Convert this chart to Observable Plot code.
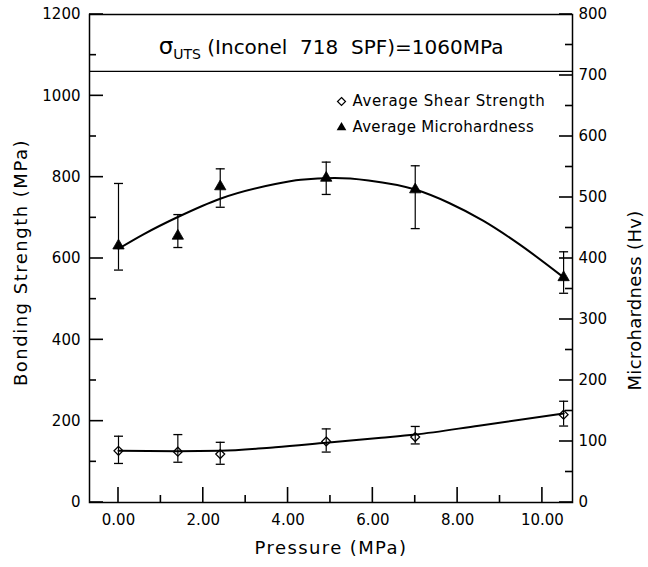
<!DOCTYPE html>
<html><head><meta charset="utf-8">
<script src="https://cdn.jsdelivr.net/npm/d3@7"></script>
<script src="https://cdn.jsdelivr.net/npm/@observablehq/plot@0.6"></script>
<style>body{margin:0;background:#fff} svg{display:block}</style>
</head><body><div id="chart"></div>
<script>
// ---- data ----
const pressure   = [0, 1.4, 2.4, 4.9, 7.0, 10.5];          // MPa
const shearMean  = [127, 125, 119, 150, 161, 216];          // MPa (left axis)
const shearLow   = [96, 99, 94, 124, 144, 188];
const shearHigh  = [163, 167, 148, 181, 187, 249];
const hardMean   = [421, 437, 518, 532, 513, 369];          // Hv (right axis)
const hardLow    = [381, 418, 484, 505, 449, 343];
const hardHigh   = [523, 472, 547, 558, 552, 411];

// fitted curves as drawn in the reference
const shearFitX  = [0, 1.4, 2.4, 3.7, 4.9, 6.2, 7.0, 8.5, 10.5];
const shearFitY  = [127, 126, 127, 136, 147, 159, 167, 189, 219];
const hardFitX   = [0, 0.6, 1.4, 2.4, 3.7, 4.3, 5.1, 5.9, 7.0, 7.8, 8.6, 9.4, 10.5];
const hardFitY   = [416, 440, 468, 498, 522, 529, 532, 528, 513, 491, 462, 426, 369];

const seriesNames = ["Average Shear Strength", "Average Microhardness"];
const utsValue = 1060;
const titleParts = ["σ", "UTS", " (Inconel\u00a0 718\u00a0 SPF)=1060MPa"];

const leftTicks  = [0, 200, 400, 600, 800, 1000, 1200];
const leftMinor  = [100, 300, 500, 700, 900, 1100];
const rightTicks = [0, 100, 200, 300, 400, 500, 600, 700, 800];
const rightMinor = [50, 150, 250, 350, 450, 550, 650, 750];
const xTicks     = [0, 2, 4, 6, 8, 10];
const xMinor     = [1, 3, 5, 7, 9];

const HV_TO_LEFT = 1200 / 800; // right axis 0..800 Hv shares the frame with 0..1200 MPa

// ---- tables ----
const shear = pressure.map((p, i) => ({p, m: shearMean[i], lo: shearLow[i], hi: shearHigh[i]}));
const hard  = pressure.map((p, i) => ({p, m: hardMean[i] * HV_TO_LEFT, lo: hardLow[i] * HV_TO_LEFT, hi: hardHigh[i] * HV_TO_LEFT}));
const shearFit = shearFitX.map((p, i) => ({p, v: shearFitY[i]}));
const hardFit  = hardFitX.map((p, i) => ({p, v: hardFitY[i] * HV_TO_LEFT}));

const capSymbol = {draw(ctx) { ctx.moveTo(-4.5, 0); ctx.lineTo(4.5, 0); }};
const FONT = "DejaVu Sans, sans-serif";

const errMarks = (data) => [
  Plot.ruleX(data, {x: "p", y1: "lo", y2: "hi", stroke: "black", strokeWidth: 1.2}),
  Plot.dot(data, {x: "p", y: "lo", symbol: capSymbol, r: 4, stroke: "black", strokeWidth: 1.3, fill: "none"}),
  Plot.dot(data, {x: "p", y: "hi", symbol: capSymbol, r: 4, stroke: "black", strokeWidth: 1.3, fill: "none"})
];

const plot = Plot.plot({
  width: 648, height: 567,
  marginLeft: 89, marginRight: 76, marginTop: 14, marginBottom: 65,
  x: {domain: [-0.684, 10.71], label: null},
  y: {domain: [0, 1200], label: null},
  style: {fontFamily: FONT, fontSize: "15px", color: "black", background: "white"},
  marks: [
    Plot.frame({stroke: "black", strokeWidth: 1.5, fill: "none"}),
    // tick labels
    Plot.axisY(leftTicks, {anchor: "left", tickSize: 0, tickPadding: 9, fontSize: 15, tickFormat: d => String(d), label: null}),
    Plot.axisY(rightTicks.map(v => v * HV_TO_LEFT), {anchor: "right", tickSize: 0, tickPadding: 6, fontSize: 15,
      tickFormat: d => String(Math.round(d / HV_TO_LEFT)), label: null}),
    Plot.axisX(xTicks, {anchor: "bottom", tickSize: 0, tickPadding: 12, fontSize: 15, tickFormat: d => d.toFixed(2), label: null}),
    // UTS reference line and annotation
    Plot.ruleY([utsValue], {stroke: "black", strokeWidth: 1.3}),
    Plot.text([titleParts.join("")], {frameAnchor: "top", dy: 33, fontSize: 20, lineAnchor: "middle"}),
    // fitted curves
    Plot.line(hardFit,  {x: "p", y: "v", curve: "monotone-x", stroke: "black", strokeWidth: 2}),
    Plot.line(shearFit, {x: "p", y: "v", curve: "monotone-x", stroke: "black", strokeWidth: 2}),
    // error bars
    ...errMarks(hard),
    ...errMarks(shear),
    // points
    Plot.dot(hard,  {x: "p", y: "m", symbol: "triangle", r: 4.2, fill: "black", stroke: "black", strokeWidth: 0.8}),
    Plot.dot(shear, {x: "p", y: "m", symbol: "diamond2", r: 4, fill: "none", stroke: "black", strokeWidth: 1.3}),
    // legend
    Plot.dot([seriesNames[0]], {frameAnchor: "top-left", dx: 252, dy: 87, symbol: "diamond2", r: 3.6, fill: "none", stroke: "black", strokeWidth: 1.2}),
    Plot.text([seriesNames[0]], {frameAnchor: "top-left", dx: 263, dy: 87, textAnchor: "start", lineAnchor: "middle", fontSize: 15}),
    Plot.dot([seriesNames[1]], {frameAnchor: "top-left", dx: 252, dy: 113, symbol: "triangle", r: 3.6, fill: "black"}),
    Plot.text([seriesNames[1]], {frameAnchor: "top-left", dx: 263, dy: 113, textAnchor: "start", lineAnchor: "middle", fontSize: 15}),
    // axis titles
    Plot.text(["Pressure (MPa)"], {frameAnchor: "bottom", dy: 46, fontSize: 18, textAnchor: "middle", lineAnchor: "middle"}),
    Plot.text(["Bonding Strength (MPa)"], {frameAnchor: "left", dx: -68, dy: 4, rotate: -90, fontSize: 18, textAnchor: "middle", lineAnchor: "middle"}),
    Plot.text(["Microhardness (Hv)"], {frameAnchor: "right", dx: 63, dy: 42, rotate: -90, fontSize: 18, textAnchor: "middle", lineAnchor: "middle"})
  ]
});

const svg = d3.select(plot);

// inward tick marks, placed through the chart's own x and y scales
const xs = plot.scale("x"), ys = plot.scale("y");
const fx0 = Math.min(...xs.range), fx1 = Math.max(...xs.range), fyBottom = Math.max(...ys.range);
const tg = svg.append("g").attr("fill", "none").attr("stroke", "#000").attr("stroke-width", 1.6);
const hTicks = (vals, x0, len) => vals.forEach(v => {
  const y = ys.apply(v);
  tg.append("path").attr("d", `M${x0},${y}h${len}`);
});
hTicks(leftTicks, fx0, 14);
hTicks(leftMinor, fx0, 7);
hTicks(rightTicks.map(v => v * HV_TO_LEFT), fx1, -13);
hTicks(rightMinor.map(v => v * HV_TO_LEFT), fx1, -7);
const vTicks = (vals, len) => vals.forEach(v => {
  const x = xs.apply(v);
  tg.append("path").attr("d", `M${x},${fyBottom}v${-len}`);
});
vTicks(xTicks, 15);
vTicks(xMinor, 7);

// rich text for the σ_UTS annotation
svg.selectAll("text").filter(function() { return this.textContent === titleParts.join(""); }).each(function() {
  const t = d3.select(this);
  t.text(null).style("white-space", "pre");
  t.append("tspan").attr("font-size", 23).text(titleParts[0]);
  t.append("tspan").attr("font-size", 14).attr("dy", 5).text(titleParts[1]);
  t.append("tspan").attr("dy", -5).text(titleParts[2]);
});
// slightly wider lettering, as in the reference
const spacing = {"Pressure (MPa)": "1.4px", "Bonding Strength (MPa)": "1.5px", "Microhardness (Hv)": "0.3px",
                 [seriesNames[0]]: "0.6px", [seriesNames[1]]: "0.3px"};
svg.selectAll("text").each(function() {
  const s = spacing[this.textContent];
  if (s) d3.select(this).style("letter-spacing", s);
});
document.getElementById("chart").appendChild(plot);
</script>
</body></html>
